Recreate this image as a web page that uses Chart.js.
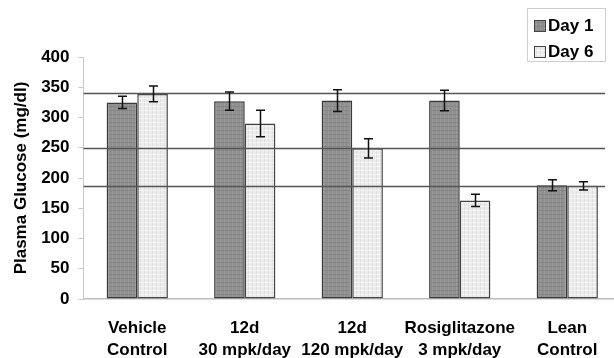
<!DOCTYPE html>
<html>
<head>
<meta charset="utf-8">
<script src="https://cdn.jsdelivr.net/npm/chart.js@4"></script>
<style>
  html, body { margin: 0; padding: 0; background: #fff; overflow: hidden; }
  #wrap { width: 621px; height: 358px; }
</style>
</head>
<body>
<div id="wrap"><canvas id="myChart" width="621" height="358"></canvas></div>
<script>
const categories = [
    ['Vehicle', 'Control'],
    ['12d', '30 mpk/day'],
    ['12d', '120 mpk/day'],
    ['Rosiglitazone', '3 mpk/day'],
    ['Lean', 'Control']
];
const day1 = [325, 327, 328, 328, 188];
const day6 = [339, 290, 249, 163, 187];
const day1Err = [10, 15, 18, 17, 9];
const day6Err = [13, 22, 16, 10, 7];
const refLines = [340, 249, 187];
const yTicks = [0, 50, 100, 150, 200, 250, 300, 350, 400];

const FONT = '"Liberation Sans", Arial, sans-serif';

// little textured fills like the scanned figure
function makePattern(base, dot, dot2) {
    const c = document.createElement('canvas');
    c.width = 4;
    c.height = 4;
    const g = c.getContext('2d');
    g.fillStyle = base;
    g.fillRect(0, 0, 4, 4);
    g.fillStyle = dot;
    g.fillRect(0, 0, 1, 4);
    g.fillStyle = dot2;
    g.fillRect(0, 2, 4, 1);
    return g.createPattern(c, 'repeat');
}

const fill1 = makePattern('#8f8f8f', '#9b9b9b', '#858585');
const fill6 = makePattern('#ececec', '#dedede', '#f4f4f4');

const errorBars = {
    id: 'errorBars',
    afterDatasetsDraw(chart) {
        const ctx = chart.ctx;
        const y = chart.scales.y;
        // reference lines on top of the bars
        ctx.save();
        ctx.strokeStyle = '#555';
        ctx.lineWidth = 1.5;
        refLines.forEach(v => {
            const py = Math.round(y.getPixelForValue(v)) + 0.5;
            ctx.beginPath();
            ctx.moveTo(chart.chartArea.left, py);
            ctx.lineTo(605, py);
            ctx.stroke();
        });
        ctx.strokeStyle = '#111';
        ctx.lineWidth = 1.5;
        chart.data.datasets.forEach((ds, i) => {
            const meta = chart.getDatasetMeta(i);
            meta.data.forEach((bar, j) => {
                const x = Math.round(bar.x) + 0.5;
                const top = y.getPixelForValue(ds.data[j] + ds.errors[j]);
                const bot = y.getPixelForValue(ds.data[j] - ds.errors[j]);
                ctx.beginPath();
                ctx.moveTo(x, top);
                ctx.lineTo(x, bot);
                ctx.moveTo(x - 4.5, top);
                ctx.lineTo(x + 4.5, top);
                ctx.moveTo(x - 4.5, bot);
                ctx.lineTo(x + 4.5, bot);
                ctx.stroke();
            });
        });
        ctx.restore();
    },
    afterDraw(chart) {
        // boxed legend in the top right corner
        const ctx = chart.ctx;
        ctx.save();
        ctx.strokeStyle = '#cfcfcf';
        ctx.lineWidth = 1;
        ctx.strokeRect(527.5, 8.5, 78, 53);
        ctx.font = 'bold 17px ' + FONT;
        ctx.textBaseline = 'middle';
        chart.data.datasets.forEach((ds, i) => {
            const cy = 25 + i * 26;
            ctx.fillStyle = ds.backgroundColor;
            ctx.fillRect(534, cy - 5, 11, 11);
            ctx.strokeStyle = '#444';
            ctx.strokeRect(534.5, cy - 4.5, 11, 11);
            ctx.fillStyle = '#000';
            ctx.fillText(ds.label, 548, cy + 1);
        });
        ctx.restore();
    }
};

const ctx = document.getElementById('myChart').getContext('2d');
const myChart = new Chart(ctx, {
    type: 'bar',
    data: {
        labels: categories,
        datasets: [{
            label: 'Day 1',
            data: day1,
            errors: day1Err,
            backgroundColor: fill1,
            borderColor: '#3a3a3a',
            borderWidth: 1.5,
            borderSkipped: false
        }, {
            label: 'Day 6',
            data: day6,
            errors: day6Err,
            backgroundColor: fill6,
            borderColor: '#444',
            borderWidth: 1.5,
            borderSkipped: false
        }]
    },
    options: {
        responsive: false,
        animation: false,
        layout: { padding: { top: 57, left: 0, right: 0, bottom: 0 } },
        plugins: {
            legend: { display: false },
            tooltip: { enabled: false }
        },
        datasets: {
            bar: { categoryPercentage: 0.57, barPercentage: 1 }
        },
        scales: {
            x: {
                grid: { display: false },
                border: { display: true, color: '#bdbdbd', dash: [2, 1], width: 1.5 },
                ticks: {
                    color: '#000',
                    font: { family: FONT, size: 17, weight: 'bold', lineHeight: 1.25 },
                    padding: 11,
                    maxRotation: 0,
                    autoSkip: false
                },
                afterFit: s => { s.height = 59; }
            },
            y: {
                min: 0,
                max: 400,
                afterBuildTicks: s => { s.ticks = yTicks.map(v => ({ value: v })); },
                grid: { drawOnChartArea: false, drawTicks: true, tickLength: 5, color: '#c8c8c8' },
                border: { display: true, color: '#c8c8c8' },
                ticks: {
                    color: '#000',
                    font: { family: FONT, size: 17, weight: 'bold' },
                    padding: 9
                },
                title: {
                    display: true,
                    text: 'Plasma Glucose (mg/dl)',
                    color: '#000',
                    font: { family: FONT, size: 17, weight: 'bold' },
                    padding: { top: 11, bottom: 0 }
                },
                afterFit: s => { s.width = 83.5; }
            }
        }
    },
    plugins: [errorBars]
});
</script>
</body>
</html>
